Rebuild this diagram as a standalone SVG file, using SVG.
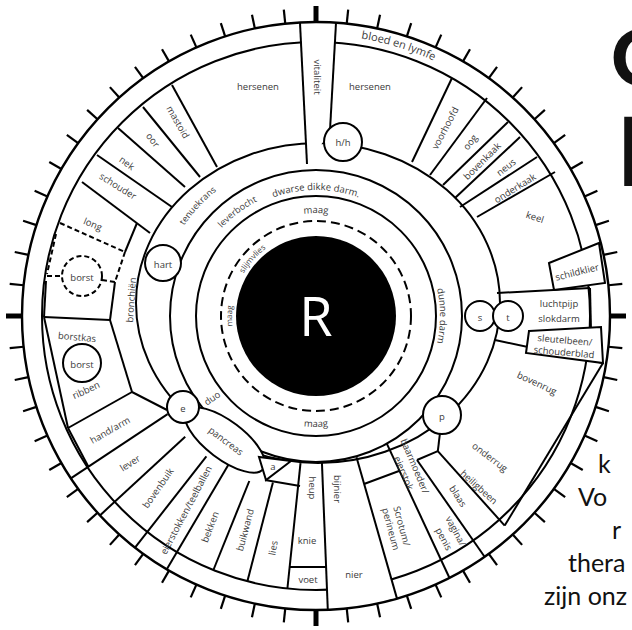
<svg xmlns="http://www.w3.org/2000/svg" xmlns:xlink="http://www.w3.org/1999/xlink" width="632" height="630" viewBox="0 0 632 630">
<style>
.ln{fill:none;stroke:#000;stroke-width:2;stroke-linejoin:round}
.wf{fill:#fff;stroke:#000;stroke-width:2}
.ds{fill:none;stroke:#000;stroke-width:2;stroke-dasharray:5 3}
.t{font-family:"Open Sans","Liberation Sans",sans-serif;font-size:9.5px;fill:#3a3a3a;text-anchor:middle;dominant-baseline:central}
.tp{font-family:"Open Sans","Liberation Sans",sans-serif;fill:#3a3a3a;text-anchor:middle}
.pg{font-family:Lato,"Liberation Sans",sans-serif;fill:#111}
.tk{stroke:#000;stroke-width:2.2}
.tkb{stroke:#000;stroke-width:5}
</style>
<defs>
<line id="tick" class="tk" x1="316" y1="22" x2="316" y2="8"/>
<line id="tickb" class="tkb" x1="316" y1="22" x2="316" y2="6"/>
<path id="p-blood" d="M355.1,37.7 A281,281 0 0 1 439.2,63.4"/>
<path id="p-dwarse" d="M235,219.5 A126,126 0 0 1 397,219.5"/>
<path id="p-maagtop" d="M264.5,226.8 A103,103 0 0 1 367.5,226.8"/>
<path id="p-lever" d="M197.3,265.6 A129,129 0 0 1 300.3,188"/>
<path id="p-tenue" d="M161.5,274.6 A160,160 0 0 1 263.9,164.7"/>
<path id="p-dunne" d="M423.4,254 A124,124 0 0 1 423.4,378"/>
<path id="p-maagbot" d="M260.5,412.1 A111,111 0 0 0 371.5,412.1"/>
<path id="p-maagin" d="M247.2,364.2 A84,84 0 0 1 247.2,267.8"/>
<path id="p-slijm" d="M234.9,294.3 A84,84 0 0 1 285.9,237.6"/>
</defs>
<rect width="632" height="630" fill="#fff"/>

<g id="page-text">
<text class="pg" x="611" y="86" font-size="78" font-weight="900">O</text>
<text class="pg" x="617" y="186" font-size="95" font-weight="900">I</text>
<text class="pg" x="598" y="473" font-size="25">k</text>
<text class="pg" x="578" y="506" font-size="25">Vo</text>
<text class="pg" x="612" y="539" font-size="25">r</text>
<text class="pg" x="568" y="572" font-size="25">thera</text>
<text class="pg" x="544" y="605" font-size="25">zijn onz</text>
</g>

<g id="ticks">
<use href="#tickb"/>
<use href="#tick" transform="rotate(6 316 316)"/><use href="#tick" transform="rotate(12 316 316)"/><use href="#tick" transform="rotate(18 316 316)"/><use href="#tick" transform="rotate(24 316 316)"/><use href="#tick" transform="rotate(30 316 316)"/><use href="#tick" transform="rotate(36 316 316)"/><use href="#tick" transform="rotate(42 316 316)"/><use href="#tick" transform="rotate(48 316 316)"/><use href="#tick" transform="rotate(54 316 316)"/><use href="#tick" transform="rotate(60 316 316)"/><use href="#tick" transform="rotate(66 316 316)"/><use href="#tick" transform="rotate(72 316 316)"/><use href="#tick" transform="rotate(78 316 316)"/><use href="#tick" transform="rotate(84 316 316)"/>
<use href="#tickb" transform="rotate(90 316 316)"/>
<use href="#tick" transform="rotate(96 316 316)"/><use href="#tick" transform="rotate(102 316 316)"/><use href="#tick" transform="rotate(108 316 316)"/><use href="#tick" transform="rotate(114 316 316)"/><use href="#tick" transform="rotate(120 316 316)"/><use href="#tick" transform="rotate(126 316 316)"/><use href="#tick" transform="rotate(132 316 316)"/><use href="#tick" transform="rotate(138 316 316)"/><use href="#tick" transform="rotate(144 316 316)"/><use href="#tick" transform="rotate(150 316 316)"/><use href="#tick" transform="rotate(156 316 316)"/><use href="#tick" transform="rotate(162 316 316)"/><use href="#tick" transform="rotate(168 316 316)"/><use href="#tick" transform="rotate(174 316 316)"/>
<use href="#tickb" transform="rotate(180 316 316)"/>
<use href="#tick" transform="rotate(186 316 316)"/><use href="#tick" transform="rotate(192 316 316)"/><use href="#tick" transform="rotate(198 316 316)"/><use href="#tick" transform="rotate(204 316 316)"/><use href="#tick" transform="rotate(210 316 316)"/><use href="#tick" transform="rotate(216 316 316)"/><use href="#tick" transform="rotate(222 316 316)"/><use href="#tick" transform="rotate(228 316 316)"/><use href="#tick" transform="rotate(234 316 316)"/><use href="#tick" transform="rotate(240 316 316)"/><use href="#tick" transform="rotate(246 316 316)"/><use href="#tick" transform="rotate(252 316 316)"/><use href="#tick" transform="rotate(258 316 316)"/><use href="#tick" transform="rotate(264 316 316)"/>
<use href="#tickb" transform="rotate(270 316 316)"/>
<use href="#tick" transform="rotate(276 316 316)"/><use href="#tick" transform="rotate(282 316 316)"/><use href="#tick" transform="rotate(288 316 316)"/><use href="#tick" transform="rotate(294 316 316)"/><use href="#tick" transform="rotate(300 316 316)"/><use href="#tick" transform="rotate(306 316 316)"/><use href="#tick" transform="rotate(312 316 316)"/><use href="#tick" transform="rotate(318 316 316)"/><use href="#tick" transform="rotate(324 316 316)"/><use href="#tick" transform="rotate(330 316 316)"/><use href="#tick" transform="rotate(336 316 316)"/><use href="#tick" transform="rotate(342 316 316)"/><use href="#tick" transform="rotate(348 316 316)"/><use href="#tick" transform="rotate(354 316 316)"/>
</g>

<g id="rings">
<circle cx="316" cy="316" r="294" fill="#fff" stroke="#000" stroke-width="2.4"/>
<circle class="ln" cx="316" cy="316" r="274"/>
<ellipse class="ln" cx="318" cy="303" rx="182" ry="160"/>
<circle class="ln" cx="316" cy="316" r="146"/>
<circle class="ln" cx="316" cy="316" r="120"/>
<circle cx="316" cy="316" r="95" fill="none" stroke="#000" stroke-width="2" stroke-dasharray="9 5"/>
<circle id="pupil" cx="316" cy="316" r="80" fill="#000"/>
</g>

<g id="overlays">
<polygon points="301,25 335,25 330,133 307,163" fill="#fff"/>
<polygon points="327,588 391,578 396,598 328,608" fill="#fff"/>
</g>

<g id="connectors">
<line class="ln" x1="300" y1="23" x2="307" y2="164"/>
<line class="ln" x1="336" y1="23" x2="330" y2="130"/>
<line class="ln" x1="172" y1="85" x2="217" y2="167"/>
<line class="ln" x1="143" y1="107" x2="200" y2="177"/>
<line class="ln" x1="118" y1="128" x2="185" y2="187"/>
<line class="ln" x1="97" y1="155" x2="172" y2="207"/>
<line class="ln" x1="82" y1="182" x2="150" y2="233"/>
<line class="ln" x1="137" y1="223" x2="125" y2="252"/>
<line class="ln" x1="452" y1="78" x2="412" y2="162"/>
<line class="ln" x1="487" y1="98" x2="430" y2="175"/>
<line class="ln" x1="508" y1="122" x2="443" y2="185"/>
<line class="ln" x1="520" y1="137" x2="455" y2="198"/>
<line class="ln" x1="537" y1="157" x2="460" y2="207"/>
<line class="ln" x1="555" y1="172" x2="477" y2="217"/>
<line class="ln" x1="497" y1="293" x2="590" y2="288"/>
<line class="ln" x1="590" y1="288" x2="591" y2="330"/>
<line class="ln" x1="495" y1="340" x2="603" y2="363"/>
<line class="ln" x1="603" y1="363" x2="504.7" y2="525.6"/>
<line class="ln" x1="437.8" y1="451.2" x2="504.7" y2="525.6"/>
<line class="ln" x1="440" y1="433" x2="437.8" y2="451.2"/>
<line class="ln" x1="417" y1="460" x2="437.8" y2="451.2"/>
<line class="ln" x1="417" y1="460" x2="484.6" y2="556.8"/>
<line class="ln" x1="386.8" y1="443.7" x2="449.5" y2="578"/>
<line class="ln" x1="364" y1="484" x2="399" y2="471"/>
<line class="ln" x1="356.5" y1="457.3" x2="397" y2="598.6"/>
<line class="ln" x1="321.9" y1="461.9" x2="327.8" y2="609.8"/>
<line class="ln" x1="289" y1="567" x2="326" y2="567"/>
<line class="ln" x1="300.5" y1="463.2" x2="287.4" y2="588.5"/>
<line class="ln" x1="265" y1="480" x2="300" y2="486"/>
<line class="ln" x1="272.9" y1="482.5" x2="247.4" y2="581.3"/>
<line class="ln" x1="249.3" y1="481" x2="213.4" y2="570"/>
<line class="ln" x1="228.7" y1="464.2" x2="166.8" y2="569.3"/>
<line class="ln" x1="206.4" y1="456.3" x2="135" y2="547.7"/>
<line class="ln" x1="185.2" y1="436.7" x2="99.9" y2="515.4"/>
<line class="ln" x1="167.6" y1="414.2" x2="70.8" y2="478.3"/>
<line class="ln" x1="68" y1="428" x2="88.4" y2="466.7"/>
<line class="ln" x1="68" y1="428" x2="132" y2="392"/>
<line class="ln" x1="132" y1="392" x2="167" y2="410"/>
<line class="ln" x1="110" y1="320" x2="132" y2="392"/>
<line class="ln" x1="44" y1="317" x2="110" y2="320"/>
<line class="ln" x1="44" y1="317" x2="68" y2="428"/>
<line class="ln" x1="46" y1="281" x2="44" y2="317"/>
<line class="ln" x1="115" y1="282" x2="110" y2="320"/>
<line class="ds" x1="60" y1="223" x2="125" y2="252"/>
<line class="ds" x1="125" y1="252" x2="115" y2="282"/>
<line class="ds" x1="56" y1="234" x2="47" y2="274"/>
<line class="ds" x1="47" y1="276" x2="62" y2="276"/>
<line class="ds" x1="102" y1="280" x2="115" y2="282"/>
</g>

<g id="boxes">
<polygon class="wf" points="549,263 599,243 605,283 554,290"/>
<polygon class="wf" points="529,331 601,327 603,363 526,353"/>
<ellipse class="wf" cx="225" cy="440" rx="48" ry="19" transform="rotate(37 225 440)"/>
<polygon class="wf" points="259,457 266,480 291,461"/>
</g>

<g id="nodes">
<g id="n-hh"><circle class="wf" cx="343" cy="142" r="19"/><text class="t" x="343" y="142">h/h</text></g>
<g id="n-hart"><circle class="wf" cx="163" cy="263" r="18"/><text class="t" x="163" y="264">hart</text></g>
<g id="n-s"><circle class="wf" cx="480" cy="316" r="15"/><text class="t" x="480" y="317" font-size="11">s</text></g>
<g id="n-t"><circle class="wf" cx="508" cy="316" r="15"/><text class="t" x="508" y="317" font-size="11">t</text></g>
<g id="n-p"><circle class="wf" cx="442" cy="415" r="19"/><text class="t" x="442" y="416">p</text></g>
<g id="n-e"><circle class="wf" cx="183" cy="407" r="16"/><text class="t" x="183" y="408">e</text></g>
<g id="n-borst1"><circle cx="82" cy="276" r="20" fill="#fff" stroke="#000" stroke-width="2" stroke-dasharray="5 3"/><text class="t" x="82" y="277">borst</text></g>
<g id="n-borst2"><circle class="wf" cx="82" cy="363" r="19"/><text class="t" x="82" y="364">borst</text></g>
</g>

<g id="labels">
<text class="t" x="258" y="86" font-size="11">hersenen</text>
<text class="t" x="370" y="86" font-size="11">hersenen</text>
<text class="t" transform="translate(317,77) rotate(90)">vitaliteit</text>
<text class="tp" font-size="11"><textPath href="#p-blood" startOffset="50%">bloed en lymfe</textPath></text>
<text class="t" transform="translate(445,128) rotate(-62)">voorhoofd</text>
<text class="t" transform="translate(470,142) rotate(-52)">oog</text>
<text class="t" transform="translate(482,161) rotate(-45)">bovenkaak</text>
<text class="t" transform="translate(506,167) rotate(-38)">neus</text>
<text class="t" transform="translate(515,188) rotate(-32)">onderkaak</text>
<text class="t" transform="translate(535,217) rotate(18)">keel</text>
<text class="t" transform="translate(577,272) rotate(-14)" font-size="7">schildklier</text>
<text class="t" x="559" y="303" font-size="10.5">luchtpijp</text>
<text class="t" x="559" y="318" font-size="10.5">slokdarm</text>
<text class="t" transform="translate(565,340) rotate(5)" font-size="7">sleutelbeen/</text>
<text class="t" transform="translate(564,352) rotate(5)" font-size="7">schouderblad</text>
<text class="t" transform="translate(537,383) rotate(25)">bovenrug</text>
<text class="t" transform="translate(490,457) rotate(37)">onderrug</text>
<text class="t" transform="translate(479,487) rotate(42)">heiligbeen</text>
<text class="t" transform="translate(458,496) rotate(57)">blaas</text>
<text class="t" transform="translate(456,531) rotate(62)">vagina/</text>
<text class="t" transform="translate(444,539) rotate(62)">penis</text>
<text class="t" transform="translate(415,466) rotate(67)" font-size="7.5">baarmoeder/</text>
<text class="t" transform="translate(404,473) rotate(67)" font-size="7.5">eierstok</text>
<text class="t" transform="translate(402,526) rotate(75)">Scrotum/</text>
<text class="t" transform="translate(391,529) rotate(75)">perineum</text>
<text class="t" transform="translate(337,489) rotate(90)">bijnier</text>
<text class="t" x="354" y="574" font-size="17">nier</text>
<text class="t" transform="translate(312,488) rotate(90)">heup</text>
<text class="t" x="307" y="540" font-size="10">knie</text>
<text class="t" x="308" y="579" font-size="10">voet</text>
<text class="t" transform="translate(273,548) rotate(-80)">lies</text>
<text class="t" transform="translate(245,530) rotate(-75)">buikwand</text>
<text class="t" transform="translate(210,527) rotate(-69)">bekken</text>
<text class="t" transform="translate(186,510) rotate(-62)" font-size="7">eierstokken/teelballen</text>
<text class="t" transform="translate(158,488) rotate(-55)">bovenbuik</text>
<text class="t" transform="translate(130,463) rotate(-33)">lever</text>
<text class="t" transform="translate(110,430) rotate(-30)">hand/arm</text>
<text class="t" transform="translate(86,390) rotate(-25)">ribben</text>
<text class="t" transform="translate(77,337) rotate(5)">borstkas</text>
<text class="t" transform="translate(93,224) rotate(22)">long</text>
<text class="t" transform="translate(118,186) rotate(32)">schouder</text>
<text class="t" transform="translate(127,163) rotate(36)">nek</text>
<text class="t" transform="translate(153,140) rotate(52)">oor</text>
<text class="t" transform="translate(178,122) rotate(60)">mastoid</text>
<text class="t" transform="translate(131,300) rotate(-86)">bronchiën</text>
<text class="t" transform="translate(212,398) rotate(-35)" font-size="8">duo</text>
<text class="t" transform="translate(226,441) rotate(37)">pancreas</text>
<text class="t" x="273" y="466" font-size="8">a</text>
<text class="tp" font-size="9"><textPath href="#p-tenue" startOffset="50%">tenuekrans</textPath></text>
<text class="tp" font-size="9"><textPath href="#p-lever" startOffset="50%">leverbocht</textPath></text>
<text class="tp" font-size="9.5"><textPath href="#p-dwarse" startOffset="50%">dwarse dikke darm.</textPath></text>
<text class="tp" font-size="9.5"><textPath href="#p-maagtop" startOffset="50%">maag</textPath></text>
<text class="tp" font-size="9.5"><textPath href="#p-dunne" startOffset="50%">dunne darm</textPath></text>
<text class="tp" font-size="9.5"><textPath href="#p-maagbot" startOffset="50%">maag</textPath></text>
<text class="tp" font-size="8"><textPath href="#p-maagin" startOffset="50%">maag</textPath></text>
<text class="tp" font-size="8"><textPath href="#p-slijm" startOffset="50%">slijmvlies</textPath></text>
<text x="316" y="336" fill="#fff" font-family="'Open Sans','Liberation Sans',sans-serif" font-size="54" text-anchor="middle">R</text>
</g>
</svg>
